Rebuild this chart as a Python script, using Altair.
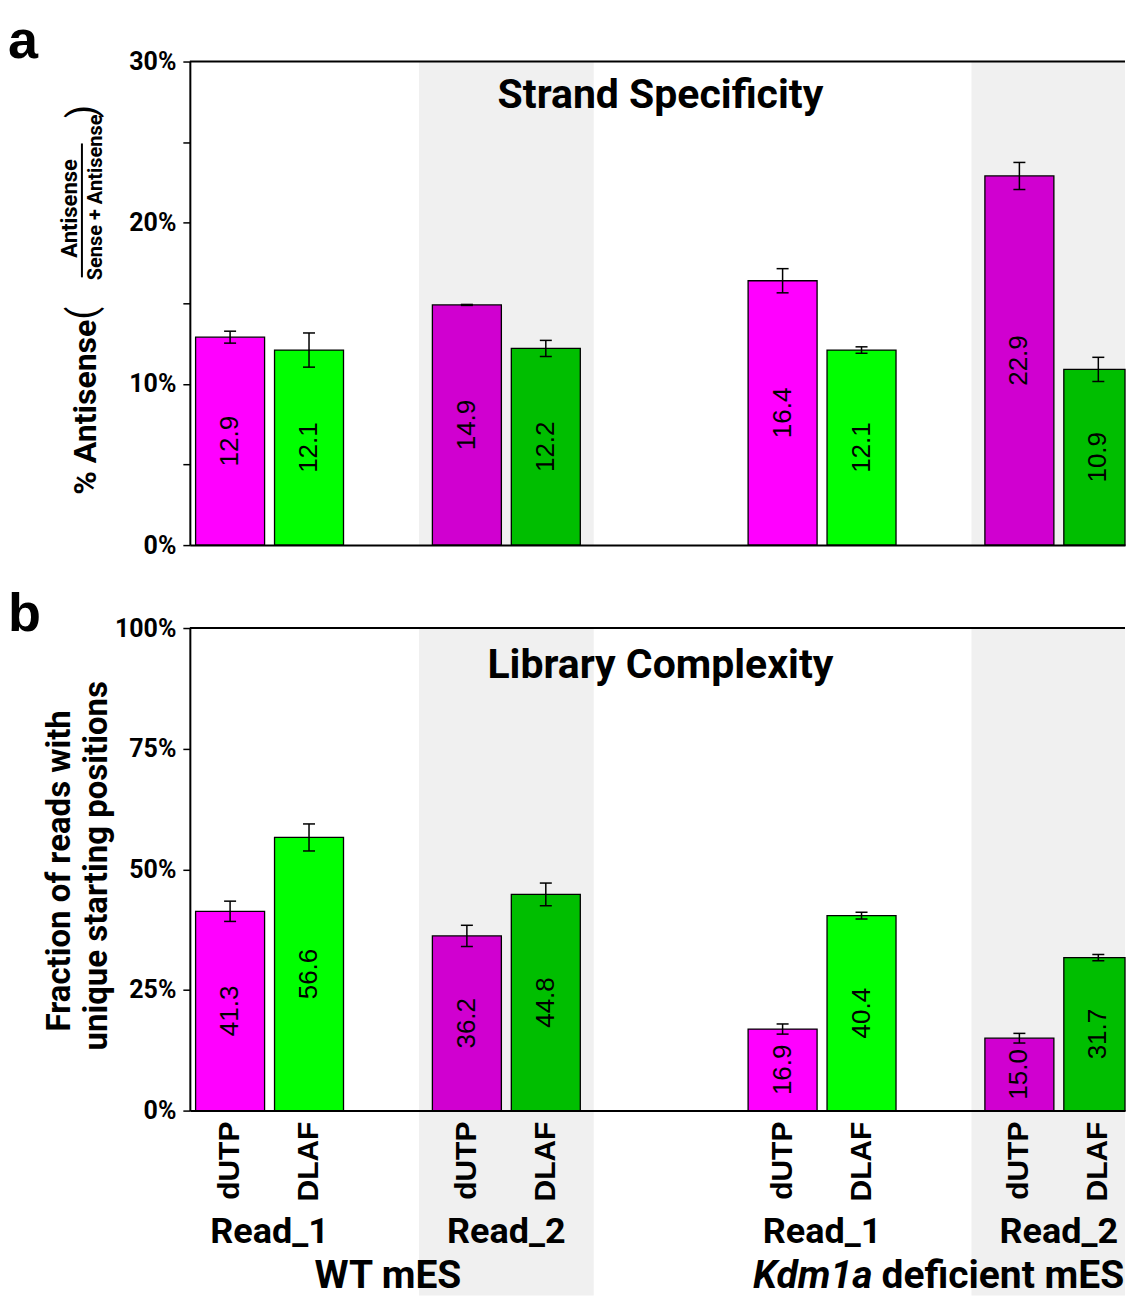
import altair as alt
import pandas as pd

# ---------------- data ----------------
conditions = ["WT mES", "Kdm1a deficient mES"]
condition_gene = ["", "Kdm1a"]          # italic part of the condition label
condition_rest = ["WT mES", "deficient mES"]
reads = ["Read_1", "Read_2"]
methods = ["dUTP", "DLAF"]

strand_values = [12.9, 12.1, 14.9, 12.2, 16.4, 12.1, 22.9, 10.9]
strand_errors = [0.37, 1.06, 0.03, 0.50, 0.75, 0.20, 0.84, 0.75]
complexity_values = [41.3, 56.6, 36.2, 44.8, 16.9, 40.4, 15.0, 31.7]
complexity_errors = [2.10, 2.80, 2.20, 2.35, 1.05, 0.70, 1.00, 0.65]

strand_ticks = [0, 5, 10, 15, 20, 25, 30]
strand_labelled = [0, 10, 20, 30]
complexity_ticks = [0, 25, 50, 75, 100]
complexity_labelled = [0, 25, 50, 75, 100]

panel_titles = ["Strand Specificity", "Library Complexity"]
panel_letters = ["a", "b"]
ytitle_a_main = "% Antisense"
ytitle_a_num = "Antisense"
ytitle_a_den = "Sense + Antisense"
ytitle_b = ["Fraction of reads with", "unique starting positions"]

color_keys = ["dUTP Read_1", "DLAF Read_1", "dUTP Read_2", "DLAF Read_2"]
color_values = ["#ff00ff", "#00ff00", "#d000d0", "#00be00"]

# ---------------- layout / style ----------------
COND = "Roboto"            # condensed-looking bold face
SANS = "Liberation Sans"   # Arial-like face
W = 936
HA = 484
HB = 483
xscale = alt.Scale(domain=[-1.01, -1.01 + W / 79.0], clamp=True, nice=False, zero=False)

rows = []
k = 0
for ci, c in enumerate(conditions):
    for ri, r in enumerate(reads):
        for mi, m in enumerate(methods):
            rows.append(dict(condition=c, read=r, method=m, cond_i=ci, read_i=ri,
                             meth_i=mi, key=f"{m} {r}",
                             strand=strand_values[k], strand_err=strand_errors[k],
                             complexity=complexity_values[k],
                             complexity_err=complexity_errors[k]))
            k += 1
df = pd.DataFrame(rows)

band_df = pd.DataFrame({"condition": conditions, "cond_i": list(range(len(conditions)))})
read_df = pd.DataFrame([dict(read=r, cond_i=ci, read_i=ri)
                        for ci in range(len(conditions)) for ri, r in enumerate(reads)])
cond_df = pd.DataFrame({"gene": condition_gene, "rest": condition_rest,
                        "cond_i": list(range(len(conditions)))})


def one(**kw):
    return alt.Chart(pd.DataFrame({k: [v] for k, v in kw.items()}))


def panel(vfield, efield, ymax, ticks, labelled, title, letter, H, bottom):
    yscale = alt.Scale(domain=[0, ymax], nice=False, zero=True)
    d = df.rename(columns={vfield: "val", efield: "err"})
    base = alt.Chart(d).transform_calculate(
        xc="datum.cond_i*7 + datum.read_i*3 + datum.meth_i - 0.5"
    ).transform_calculate(
        x0="datum.xc - 0.437", x1="datum.xc + 0.437",
        cl="datum.xc - 0.076", cr="datum.xc + 0.076",
        lo="datum.val - datum.err", hi="datum.val + datum.err",
        mid="datum.val / 2",
    )
    label_expr = f"indexof({labelled}, datum.value) >= 0 ? datum.value + '%' : ''"
    xaxis = alt.Axis(orient="bottom", labels=False, ticks=False, domain=True,
                     domainColor="black", domainWidth=2, grid=False, title=None,
                     zindex=1)
    yaxis = alt.Axis(orient="left", values=ticks, labelExpr=label_expr, tickSize=7,
                     tickWidth=1.5, tickColor="black", domainColor="black",
                     domainWidth=2, labelFont=COND, labelFontWeight="bold",
                     labelFontSize=25, labelColor="black", labelPadding=7,
                     grid=False, title=None, zindex=1)

    def X(f):
        return alt.X(f, scale=xscale, axis=xaxis)

    def Y(f):
        return alt.Y(f, scale=yscale, axis=yaxis)

    band = alt.Chart(band_df).transform_calculate(
        bc="datum.cond_i*7 + 3"
    ).transform_calculate(
        b0="datum.bc - 1.107", b1="datum.bc + 1.107"
    ).mark_rect(color="#f0f0f0").encode(
        x=X("b0:Q"), x2="b1:Q",
        y=alt.value(0), y2=alt.value(H + (185 if bottom else 0)),
    )
    top = one(top=ymax).mark_rule(color="black", strokeWidth=2).encode(y=Y("top:Q"))
    bars = base.mark_rect(stroke="black", strokeWidth=1.3).encode(
        x=X("x0:Q"), x2="x1:Q",
        y=Y("val:Q"), y2=alt.datum(0),
        color=alt.Color("key:N", scale=alt.Scale(domain=color_keys, range=color_values),
                        legend=None),
    )
    err_v = base.mark_rule(color="black", strokeWidth=1.5).encode(
        x=X("xc:Q"), y=Y("lo:Q"), y2="hi:Q")
    cap_hi = base.mark_rule(color="black", strokeWidth=1.5).encode(
        x=X("cl:Q"), x2="cr:Q", y=Y("hi:Q"))
    cap_lo = base.mark_rule(color="black", strokeWidth=1.5).encode(
        x=X("cl:Q"), x2="cr:Q", y=Y("lo:Q"))
    vals = base.mark_text(angle=270, align="center", baseline="middle", font=SANS,
                          fontSize=26, color="black").encode(
        x=X("xc:Q"), y=Y("mid:Q"), text=alt.Text("val:Q", format=".1f"))
    ttl = one(t=title).mark_text(font=COND, fontWeight="bold", fontSize=41,
                                 align="center", baseline="alphabetic",
                                 color="black").encode(
        text="t:N", x=alt.value(471), y=alt.value(47 if not bottom else 50))
    let = one(t=letter).mark_text(font=SANS, fontWeight="bold", fontSize=54,
                                  align="left", baseline="alphabetic",
                                  color="black").encode(
        text="t:N", x=alt.value(-182), y=alt.value(-4 if not bottom else 3))

    layers = [band, top, bars, err_v, cap_hi, cap_lo, vals, ttl, let]

    if not bottom:
        layers += [
            # invisible spacer that fixes the top edge of the figure
            one(d=0).mark_rule(strokeOpacity=0, strokeWidth=1).encode(
                x=alt.value(-182), x2=alt.value(-170), y=alt.value(-52.5)),
            one(t=ytitle_a_main).mark_text(font=COND, fontWeight="bold", fontSize=32,
                                           angle=270, align="center", baseline="middle",
                                           color="black").encode(
                text="t:N", x=alt.value(-104), y=alt.value(346)),
            one(t="(").mark_text(font=COND, fontSize=38, angle=270, align="center",
                                 baseline="middle", color="black").encode(
                text="t:N", x=alt.value(-106), y=alt.value(252)),
            one(t=")").mark_text(font=COND, fontSize=38, angle=270, align="center",
                                 baseline="middle", color="black").encode(
                text="t:N", x=alt.value(-106), y=alt.value(50)),
            one(t=ytitle_a_num).mark_text(font=COND, fontWeight="bold", fontSize=22,
                                          angle=270, align="center", baseline="middle",
                                          color="black").encode(
                text="t:N", x=alt.value(-120), y=alt.value(147)),
            one(t=ytitle_a_den).mark_text(font=COND, fontWeight="bold", fontSize=20,
                                          angle=270, align="center", baseline="middle",
                                          color="black").encode(
                text="t:N", x=alt.value(-94), y=alt.value(136)),
            one(d=0).mark_rule(color="black", strokeWidth=2).encode(
                x=alt.value(-108), y=alt.value(82), y2=alt.value(216)),
        ]
    else:
        layers += [
            one(t=ytitle_b[0]).mark_text(font=COND, fontWeight="bold", fontSize=33,
                                         angle=270, align="center", baseline="middle",
                                         color="black").encode(
                text="t:N", x=alt.value(-130), y=alt.value(243)),
            one(t=ytitle_b[1]).mark_text(font=COND, fontWeight="bold", fontSize=33,
                                         angle=270, align="center", baseline="middle",
                                         color="black").encode(
                text="t:N", x=alt.value(-93), y=alt.value(238)),
            base.mark_text(font=SANS, fontWeight="bold", fontSize=30, angle=270,
                           align="right", baseline="middle", color="black").encode(
                x=X("xc:Q"), y=alt.value(H + 11), text="method:N"),
            alt.Chart(read_df).transform_calculate(
                gc="datum.cond_i*7 + datum.read_i*3"
            ).mark_text(font=COND, fontWeight="bold", fontSize=36, align="center",
                        baseline="alphabetic", color="black").encode(
                x=X("gc:Q"), y=alt.value(H + 133), text="read:N"),
            alt.Chart(cond_df).transform_filter("datum.gene == ''").transform_calculate(
                cc="datum.cond_i*7 + 1.5"
            ).mark_text(font=COND, fontWeight="bold", fontSize=39, align="center",
                        baseline="alphabetic", color="black").encode(
                x=X("cc:Q"), y=alt.value(H + 178), text="rest:N"),
            alt.Chart(cond_df).transform_filter("datum.gene != ''").transform_calculate(
                cc="datum.cond_i*7 + 1.5"
            ).mark_text(font=COND, fontWeight="bold", fontStyle="italic", fontSize=39,
                        align="right", baseline="alphabetic", dx=-68,
                        color="black").encode(
                x=X("cc:Q"), y=alt.value(H + 178), text="gene:N"),
            alt.Chart(cond_df).transform_filter("datum.gene != ''").transform_calculate(
                cc="datum.cond_i*7 + 1.5"
            ).mark_text(font=COND, fontWeight="bold", fontSize=39, align="left",
                        baseline="alphabetic", dx=-59, color="black").encode(
                x=X("cc:Q"), y=alt.value(H + 178), text="rest:N"),
        ]
    return alt.layer(*layers).properties(width=W, height=H)


pa = panel("strand", "strand_err", 30, strand_ticks, strand_labelled,
           panel_titles[0], panel_letters[0], HA, False)
pb = panel("complexity", "complexity_err", 100, complexity_ticks, complexity_labelled,
           panel_titles[1], panel_letters[1], HB, True)

chart = alt.VConcatChart(vconcat=[pa, pb], spacing=83, bounds="flush").properties(
    padding=0, background="white"
).configure_view(stroke=None)

chart.save("out.html", embed_options={"renderer": "svg", "actions": False})
